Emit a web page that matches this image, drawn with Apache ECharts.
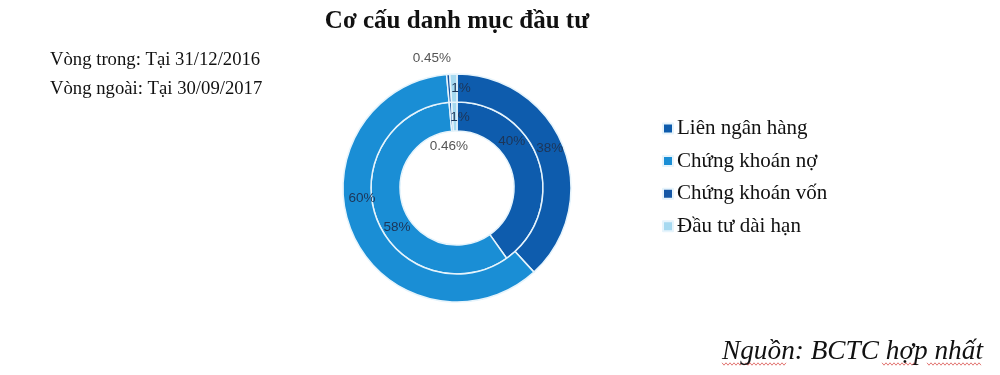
<!DOCTYPE html>
<html>
<head>
<meta charset="utf-8">
<script src="https://cdn.jsdelivr.net/npm/echarts@6/dist/echarts.min.js"></script>
<style>
html,body{margin:0;padding:0;background:#fff;}
#chart{width:1000px;height:375px;}
</style>
</head>
<body>
<div id="chart"></div>
<script>
// ---- data ----
var categories = ['Liên ngân hàng', 'Chứng khoán nợ', 'Chứng khoán vốn', 'Đầu tư dài hạn'];
var innerValues = [40, 58, 0.46, 1];      // Vòng trong: 31/12/2016
var outerValues = [38, 60, 0.45, 1];      // Vòng ngoài: 30/09/2017
var innerLabels = ['40%', '58%', '0.46%', '1%'];
var outerLabels = ['38%', '60%', '0.45%', '1%'];
var titleText = 'Cơ cấu danh mục đầu tư';
var noteLines = ['Vòng trong: Tại 31/12/2016', 'Vòng ngoài: Tại 30/09/2017'];
var sourceText = 'Nguồn: BCTC hợp nhất';

// ---- styling ----
var colors = ['#0e5cad', '#1a8ed5', '#1557a6', '#a6d9f0'];
var cx = 457, cy = 188;
// label placement in polar terms (angle clockwise from 12 o'clock, radius px)
var innerLabelPolar = [[49.5, 72], [237, 71.5], [349, 42], [2.4, 71]];
var outerLabelPolar = [[66.7, 101], [264, 95.5], [349, 132], [2.3, 100]];

function polarXY(p) {
  var a = p[0] * Math.PI / 180;
  return { x: cx + p[1] * Math.sin(a), y: cy - p[1] * Math.cos(a) };
}
function makeLayout(polar) {
  return function (params) {
    var pt = polarXY(polar[params.dataIndex]);
    return { x: pt.x, y: pt.y, align: 'center', verticalAlign: 'middle' };
  };
}
function makeData(vals) {
  return categories.map(function (c, i) { return { name: c, value: vals[i] }; });
}
// spell-check style wavy underline (decoration under the source note)
function wavy(x0, x1, y) {
  var pts = [], k = 0;
  for (var x = x0; x <= x1; x += 2, k++) pts.push([x, y + (k % 2 ? 1.2 : -1.2)]);
  return { type: 'polyline', shape: { points: pts }, style: { stroke: '#d9534f', lineWidth: 0.8, fill: null }, silent: true };
}

var chart = echarts.init(document.getElementById('chart'), null, { renderer: 'canvas' });
var serif = '"Liberation Serif", "DejaVu Serif", serif';
var option = {
  animation: false,
  color: colors,
  title: [
    { text: titleText, left: 452, top: 4, textAlign: 'center',
      textStyle: { fontFamily: serif, fontSize: 25, fontWeight: 'bold', color: '#111' } },
    { text: noteLines.join('\n'), left: 45, top: 41,
      textStyle: { fontFamily: serif, fontSize: 18.7, fontWeight: 'normal', color: '#111', lineHeight: 29 } },
    { text: sourceText, right: 12, top: 333,
      textStyle: { fontFamily: serif, fontSize: 27.3, fontStyle: 'italic', fontWeight: 'normal', color: '#111' } }
  ],
  graphic: [wavy(722, 786, 364), wavy(882, 917, 364), wavy(927, 982, 364)],
  legend: {
    orient: 'vertical', left: 657, top: 113,
    itemWidth: 10, itemHeight: 10, itemGap: 11.6, icon: 'rect',
    data: categories,
    textStyle: { fontFamily: serif, fontSize: 21, color: '#111', padding: [0, 0, 0, -1] }
  },
  series: [
    {
      name: 'Vòng trong', type: 'pie', center: [cx, cy], radius: [57, 86],
      startAngle: 90, clockwise: true, silent: true,
      itemStyle: { borderColor: '#e6f4fc', borderWidth: 1.5 },
      label: { show: true, position: 'inside', fontFamily: 'Arial, "Liberation Sans", sans-serif', fontSize: 13.5,
        formatter: function (p) { return innerLabels[p.dataIndex]; },
        color: '#1d3557' },
      labelLayout: makeLayout(innerLabelPolar),
      labelLine: { show: false },
      data: makeData(innerValues)
    },
    {
      name: 'Vòng ngoài', type: 'pie', center: [cx, cy], radius: [86, 114],
      startAngle: 90, clockwise: true, silent: true,
      itemStyle: { borderColor: '#e6f4fc', borderWidth: 1.5 },
      label: { show: true, position: 'inside', fontFamily: 'Arial, "Liberation Sans", sans-serif', fontSize: 13.5,
        formatter: function (p) { return outerLabels[p.dataIndex]; },
        color: '#1d3557' },
      labelLayout: makeLayout(outerLabelPolar),
      labelLine: { show: false },
      data: makeData(outerValues)
    }
  ]
};
// grey labels for the small slices outside the blue
option.series[0].data[2].label = { color: '#555' };
option.series[1].data[2].label = { color: '#555' };
chart.setOption(option);
</script>
</body>
</html>
